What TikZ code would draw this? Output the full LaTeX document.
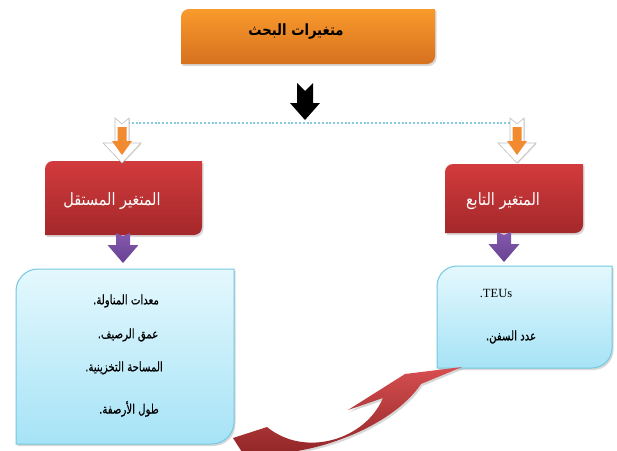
\documentclass[tikz,border=0pt]{standalone}
\usepackage{fontspec}
\setmainfont{Liberation Serif}
\newfontfamily\arabicfont[Script=Arabic,FakeStretch=0.85]{DejaVu Sans}
\newfontfamily\arabiclist[Script=Arabic,FakeStretch=0.78,FakeBold=0.5]{DejaVu Sans}
\TeXXeTstate=1
\usetikzlibrary{shadows}
\newcommand\artxt[1]{{\arabicfont\beginR #1\endR}}
\newcommand\arlst[1]{{\arabiclist\beginR #1\endR}}
% #1 style, #2 x1, #3 y1, #4 x2, #5 y2, #6 radius (top-left and bottom-right rounded)
\newcommand\DiagBox[6]{%
  \path[#1] (#2+#6,#3) -- (#4,#3) -- (#4,#5-#6)
    .. controls (#4,#5-0.45*#6) and (#4-0.45*#6,#5) .. (#4-#6,#5)
    -- (#2,#5) -- (#2,#3+#6)
    .. controls (#2,#3+0.45*#6) and (#2+0.45*#6,#3) .. (#2+#6,#3) -- cycle;}
\definecolor{orTop}{HTML}{F99A2C}
\definecolor{orBot}{HTML}{D6711F}
\definecolor{rdTop}{HTML}{D23B3D}
\definecolor{rdBot}{HTML}{A4282A}
\definecolor{blTop}{HTML}{E4F8FD}
\definecolor{blBot}{HTML}{A6E3F6}
\definecolor{blLine}{HTML}{74C8E0}
\definecolor{puTop}{HTML}{8459AD}
\definecolor{puBot}{HTML}{684293}
\definecolor{dotBlue}{HTML}{86CBE0}
\definecolor{arrOr}{HTML}{F28A30}
\begin{document}
\begin{tikzpicture}[x=1pt,y=-1pt,
  shad/.style={drop shadow={shadow xshift=1.5pt,shadow yshift=-2pt,opacity=0.3}},
  orangebox/.style={top color=orTop,bottom color=orBot,shad},
  redbox/.style={top color=rdTop,bottom color=rdBot,shad},
  bluebox/.style={top color=blTop,bottom color=blBot,draw=blLine,line width=1pt,shad},
  blackarrow/.style={fill=black},
  whitearrow/.style={fill=white,draw=black!25,line width=0.6pt,drop shadow={shadow xshift=0.8pt,shadow yshift=-0.8pt,opacity=0.25}},
  orangearrow/.style={fill=arrOr},
  purplearrow/.style={top color=puTop,bottom color=puBot},
  curvearrow/.style={top color=rdTop!90!white,bottom color=rdBot!85!black,shad},
  titletxt/.style={inner sep=0pt,font=\fontsize{15.5}{17}\selectfont\bfseries},
  redtxt/.style={inner sep=0pt,text=white,font=\fontsize{17}{19}\selectfont},
  listtxt/.style={inner sep=0pt,font=\fontsize{13}{15}\selectfont},
]
\useasboundingbox[fill=white] (0,0) rectangle (617,450);

% boxes
\DiagBox{orangebox}{181}{9}{435}{64}{8}
\DiagBox{redbox}{45}{161}{202}{235}{8}
\DiagBox{redbox}{445}{164}{583}{233}{8}
\DiagBox{bluebox}{16}{269}{234}{444}{22}
\DiagBox{bluebox}{437}{266}{612}{368}{20}

% black arrow
\path[blackarrow] (297,83) -- (305,91) -- (313,83) -- (313,103) -- (320,103)
  -- (305,120) -- (290,103) -- (297,103) -- cycle;

% dotted line
\coordinate (dl) at (128,123);
\coordinate (dr) at (512,123);
\draw[dotBlue,line width=1.3pt,dash pattern=on 2pt off 1.8pt] (dl) -- (dr);

% white/orange arrows
\foreach \cx in {122,517}{
  \path[whitearrow] (\cx-7,118) -- (\cx,124) -- (\cx+7,118) -- (\cx+7,143) -- (\cx+19,143)
     -- (\cx,163) -- (\cx-19,143) -- (\cx-7,143) -- cycle;
  \path[orangearrow] (\cx-4.5,127) -- (\cx+4.5,127) -- (\cx+4.5,141) -- (\cx+10,141)
     -- (\cx,155) -- (\cx-10,141) -- (\cx-4.5,141) -- cycle;
}

% purple arrows
\path[purplearrow] (116,233) -- (123,236) -- (130,233) -- (130,245) -- (138.5,245)
  -- (123,263) -- (107.5,245) -- (116,245) -- cycle;
\path[purplearrow] (497,232) -- (504,235) -- (511,232) -- (511,244) -- (519.5,244)
  -- (504,262) -- (488.5,244) -- (497,244) -- cycle;

% curved red arrow
\path[curvearrow] (462,367) -- (405,374) -- (348,410) -- (383,398)
  .. controls (365,440) and (305,458) .. (267,427)
  -- (233,438) -- (242,452)
  .. controls (300,462) and (390,430) .. (421,384) -- cycle;

% texts
\node[titletxt] (title) at (296,32) {\artxt{متغيرات البحث}};
\node[redtxt] (indep) at (112,201) {\artxt{المتغير المستقل}};
\node[redtxt] (dep) at (503,201) {\artxt{المتغير التابع}};
\node[listtxt] (l1) at (126,301) {\arlst{معدات المناولة.}};
\node[listtxt] (l2) at (128,335) {\arlst{عمق الرصيف.}};
\node[listtxt] (l3) at (124,368) {\arlst{المساحة التخزينية.}};
\node[listtxt] (l4) at (129,409) {\arlst{طول الأرصفة.}};
\node[inner sep=0pt,font=\fontsize{12.5}{14}\selectfont] (r1) at (496,293) {.TEUs};
\node[listtxt] (r2) at (511,337) {\arlst{عدد السفن.}};
\end{tikzpicture}
\end{document}
